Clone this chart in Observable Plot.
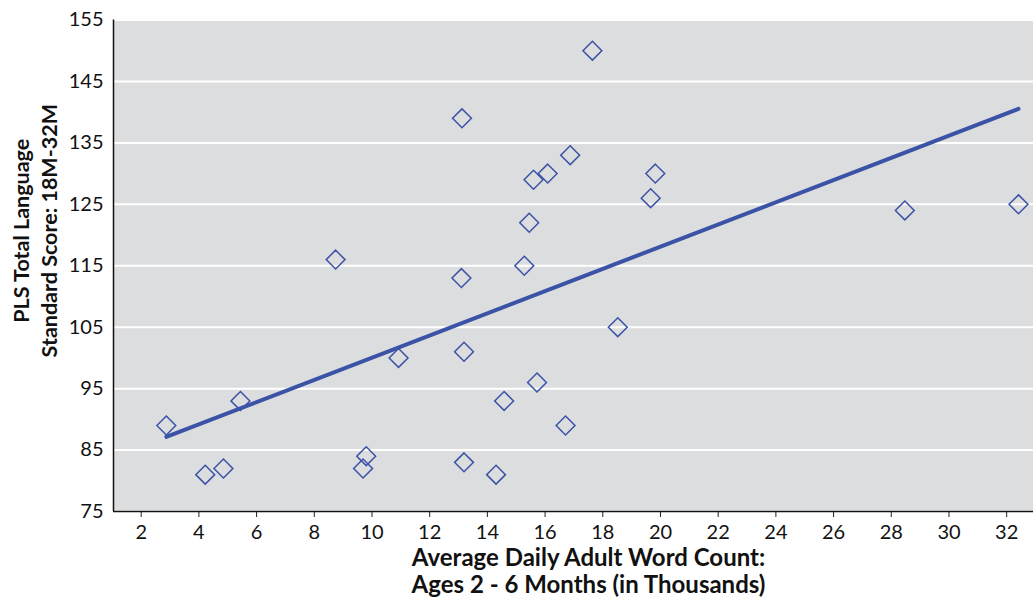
<!DOCTYPE html>
<html>
<head>
<meta charset="utf-8">
<script src="https://cdn.jsdelivr.net/npm/d3@7"></script>
<script src="https://cdn.jsdelivr.net/npm/@observablehq/plot@0.6"></script>
<style>
  html, body { margin: 0; padding: 0; background: white; }
</style>
</head>
<body>
<div id="chart"></div>
<script>
// Average daily adult word count, ages 2-6 months (thousands)
const wordCount = [2.87, 4.22, 4.85, 5.44, 8.74, 9.8, 9.69, 10.92, 13.12, 13.1, 13.19, 13.19, 14.3, 14.58, 15.28, 15.45, 15.6, 16.09, 15.72, 16.71, 16.87, 17.64, 18.52, 19.66, 19.82, 28.47, 32.41];
// PLS total language standard score, 18M-32M
const plsScore = [89, 81, 82, 93, 116, 84, 82, 100, 139, 113, 101, 83, 81, 93, 115, 122, 129, 130, 96, 89, 133, 150, 105, 126, 130, 124, 125];

const xTicks = [2, 4, 6, 8, 10, 12, 14, 16, 18, 20, 22, 24, 26, 28, 30, 32];
const yTicks = [75, 85, 95, 105, 115, 125, 135, 145, 155];

const xTitle = ["Average Daily Adult Word Count:", "Ages 2 - 6 Months (in Thousands)"];
const yTitle = ["PLS Total Language", "Standard Score: 18M-32M"];

const data = wordCount.map((x, i) => ({x, y: plsScore[i]}));
const xDomain = [1.04, 32.93];

const blue = "#3b53a6";

const chart = Plot.plot({
  width: 1033,
  height: 608,
  marginLeft: 113,
  marginRight: 0,
  marginTop: 19.5,
  marginBottom: 97,
  style: {fontFamily: "Lato, 'Noto Sans', sans-serif", fontSize: "20px", color: "#111", background: "white"},
  x: {domain: xDomain},
  y: {domain: [75, 155]},
  marks: [
    Plot.frame({fill: "#dcdddf", stroke: null}),
    Plot.gridY(yTicks, {stroke: "white", strokeOpacity: 1, strokeWidth: 2}),
    Plot.axisX(xTicks, {tickSize: 6, tickPadding: 7, label: null, fontSize: 20, stroke: "#222"}),
    Plot.axisY(yTicks, {tickSize: 0, tickPadding: 10, label: null, fontSize: 20}),
    Plot.ruleY([75], {stroke: "#111", strokeWidth: 1.5}),
    Plot.ruleX([xDomain[0]], {stroke: "#111", strokeWidth: 1.5}),
    Plot.linearRegressionY(data, {x: "x", y: "y", stroke: blue, strokeWidth: 4, ci: 0}),
    Plot.dot(data, {x: "x", y: "y", symbol: "diamond2", r: 8.5, stroke: blue, strokeWidth: 1.5, fill: "none"}),
    Plot.text([xTitle[0]], {frameAnchor: "bottom", textAnchor: "middle", dx: 15, dy: 54, text: d => d, fontSize: 24, fontWeight: "bold", fill: "#111"}),
    Plot.text([xTitle[1]], {frameAnchor: "bottom", textAnchor: "middle", dx: 15, dy: 81.5, text: d => d, fontSize: 24, fontWeight: "bold", fill: "#111"}),
    Plot.text([yTitle[0]], {frameAnchor: "left", textAnchor: "middle", dx: -91, dy: -35, rotate: -90, text: d => d, fontSize: 21.5, fontWeight: "bold", fill: "#111"}),
    Plot.text([yTitle[1]], {frameAnchor: "left", textAnchor: "middle", dx: -63, dy: -35, rotate: -90, text: d => d, fontSize: 21.5, fontWeight: "bold", fill: "#111"})
  ]
});
document.getElementById("chart").appendChild(chart);
</script>
</body>
</html>
